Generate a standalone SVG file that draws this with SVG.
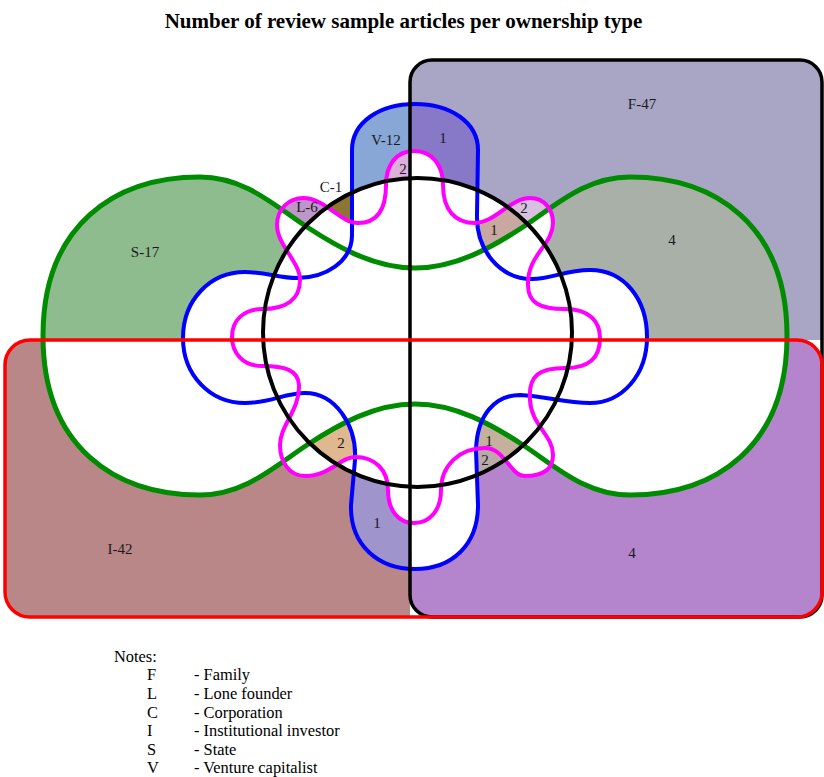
<svg xmlns="http://www.w3.org/2000/svg" width="824" height="777" viewBox="0 0 824 777">
<style>
.o{fill:none}
.sS{stroke:#008c00;stroke-width:5}
.sV{stroke:#0000ff;stroke-width:4}
.sL{stroke:#ff00ff;stroke-width:4}
.sC{stroke:#000;stroke-width:4}
.sF{stroke:#000;stroke-width:3.5}
.sI{stroke:#ff0000;stroke-width:3.5}
.lab{font-family:"Liberation Serif","Times New Roman",serif;font-size:15px;fill:#1a1a1a;text-anchor:middle}
.note{font-family:"Liberation Serif","Times New Roman",serif;font-size:16.4px;fill:#000}
.title{font-family:"Liberation Serif","Times New Roman",serif;font-size:21px;font-weight:bold;fill:#000;text-anchor:middle}
</style>
<defs>
<rect id="pF" x="410" y="60" width="412" height="557" rx="22"/>
<rect id="pI" x="5" y="340" width="817" height="277" rx="25"/>
<circle id="pC" cx="417.5" cy="332.5" r="154.5"/>
<path id="pS" d="M43,336 C43,225 115,177 200,177 C245,177 275,206 307,227 C339,248 375,268 415,268 C455,268 491,248 523,227 C555,206 585,177 630,177 C715,177 787,225 787,336 C787,447 715,495 630,495 C585,495 555,466 523,445 C491,424 455,404 415,404 C375,404 339,424 307,445 C275,466 245,495 200,495 C115,495 43,447 43,336 Z"/>
<path id="pV" d="M415,104 C450,104 478,122 478,150 L477,215 C476,250 500,279 532,279 C552,279 565,270 590,270 C625,270 647,300 647,337 C647,375 622,403 590,403 C565,403 545,396 520,395 C495,395 477,415 476,450 L478,505 C478,545 452,569 415,569 C378,569 350,545 351,505 L355,460 C357,425 335,393 305,393 C285,393 270,403 245,403 C210,403 183,375 183,338 C183,300 210,272 245,272 C265,272 280,278 297,278 C325,278 352,262 352,235 L352,150 C352,122 380,104 415,104 Z"/>
<path id="pL" d="M414,151 C432,151 443,165 443,185 C443,210 455,223 475,223 C495,223 510,198 530,198 C545,198 553,210 553,223 C553,245 527,255 528,285 C528,303 540,309 565,309 C590,309 600,322 600,338 C600,357 590,368 565,368 C540,368 528,375 530,400 C531,425 553,435 553,455 C553,470 542,476 525,476 C510,476 505,448 485,448 C460,448 441,465 441,490 C441,510 430,523 414,523 C398,523 388,510 388,490 C388,470 375,457 355,457 C340,457 330,476 305,476 C288,476 280,460 280,445 C280,425 300,410 299,385 C298,370 285,366 262,366 C242,366 232,352 232,337 C232,320 244,309 262,309 C285,309 300,300 300,280 C300,262 277,245 277,225 C277,208 290,198 303,198 C325,198 340,223 358,223 C380,223 386,205 386,185 C386,165 396,151 414,151 Z"/>
<clipPath id="cF"><use href="#pF"/></clipPath>
<clipPath id="cI"><use href="#pI"/></clipPath>
<clipPath id="cC"><use href="#pC"/></clipPath>
<clipPath id="cS"><use href="#pS"/></clipPath>
<clipPath id="cV"><use href="#pV"/></clipPath>
<clipPath id="cL"><use href="#pL"/></clipPath>
<clipPath id="cNF"><rect x="0" y="0" width="410" height="777"/></clipPath>
<clipPath id="cNI"><rect x="0" y="0" width="824" height="340"/></clipPath>
<mask id="mSVLC" maskUnits="userSpaceOnUse" x="0" y="0" width="824" height="777"><rect width="824" height="777" fill="#fff"/><use href="#pS" fill="#000"/><use href="#pV" fill="#000"/><use href="#pL" fill="#000"/><use href="#pC" fill="#000"/></mask>
<mask id="mVLC" maskUnits="userSpaceOnUse" x="0" y="0" width="824" height="777"><rect width="824" height="777" fill="#fff"/><use href="#pV" fill="#000"/><use href="#pL" fill="#000"/><use href="#pC" fill="#000"/></mask>
<mask id="mSLC" maskUnits="userSpaceOnUse" x="0" y="0" width="824" height="777"><rect width="824" height="777" fill="#fff"/><use href="#pS" fill="#000"/><use href="#pL" fill="#000"/><use href="#pC" fill="#000"/></mask>
<mask id="mSC" maskUnits="userSpaceOnUse" x="0" y="0" width="824" height="777"><rect width="824" height="777" fill="#fff"/><use href="#pS" fill="#000"/><use href="#pC" fill="#000"/></mask>
<mask id="mSVC" maskUnits="userSpaceOnUse" x="0" y="0" width="824" height="777"><rect width="824" height="777" fill="#fff"/><use href="#pS" fill="#000"/><use href="#pV" fill="#000"/><use href="#pC" fill="#000"/></mask>
<mask id="mSVL" maskUnits="userSpaceOnUse" x="0" y="0" width="824" height="777"><rect width="824" height="777" fill="#fff"/><use href="#pS" fill="#000"/><use href="#pV" fill="#000"/><use href="#pL" fill="#000"/></mask>
<mask id="mSV" maskUnits="userSpaceOnUse" x="0" y="0" width="824" height="777"><rect width="824" height="777" fill="#fff"/><use href="#pS" fill="#000"/><use href="#pV" fill="#000"/></mask>
</defs>
<rect width="824" height="777" fill="#fff"/>
<text class="title" x="403.5" y="28">Number of review sample articles per ownership type</text>
<g id="regions">
<g id="r-F" mask="url(#mSVLC)"><g clip-path="url(#cF)"><rect width="824" height="777" clip-path="url(#cNI)" fill="#a8a5c5"/></g></g>
<g id="r-I" mask="url(#mSVLC)"><g clip-path="url(#cI)"><rect width="824" height="777" clip-path="url(#cNF)" fill="#b98787"/></g></g>
<g id="r-FI" mask="url(#mSVLC)"><g clip-path="url(#cF)"><rect width="824" height="777" clip-path="url(#cI)" fill="#b484cc"/></g></g>
<g id="r-S" mask="url(#mVLC)"><g clip-path="url(#cS)"><g clip-path="url(#cNF)"><rect width="824" height="777" clip-path="url(#cNI)" fill="#8fbc8f"/></g></g></g>
<g id="r-FS" mask="url(#mVLC)"><g clip-path="url(#cS)"><g clip-path="url(#cF)"><rect width="824" height="777" clip-path="url(#cNI)" fill="#a9b0a8"/></g></g></g>
<g id="r-V" mask="url(#mSLC)"><g clip-path="url(#cV)"><g clip-path="url(#cNF)"><rect width="824" height="777" clip-path="url(#cNI)" fill="#88a6d6"/></g></g></g>
<g id="r-FV" mask="url(#mSLC)"><g clip-path="url(#cV)"><g clip-path="url(#cF)"><rect width="824" height="777" clip-path="url(#cNI)" fill="#8878c8"/></g></g></g>
<g id="r-VL" mask="url(#mSC)"><g clip-path="url(#cV)"><g clip-path="url(#cL)"><g clip-path="url(#cNF)"><rect width="824" height="777" clip-path="url(#cNI)" fill="#dcb0dc"/></g></g></g></g>
<g id="r-L" mask="url(#mSVC)"><g clip-path="url(#cL)"><g clip-path="url(#cNF)"><rect width="824" height="777" clip-path="url(#cNI)" fill="#be96c8"/></g></g></g>
<g id="r-C" mask="url(#mSVL)"><g clip-path="url(#cC)"><g clip-path="url(#cNF)"><rect width="824" height="777" clip-path="url(#cNI)" fill="#8c7632"/></g></g></g>
<g id="r-FL" mask="url(#mSVC)"><g clip-path="url(#cL)"><g clip-path="url(#cF)"><rect width="824" height="777" clip-path="url(#cNI)" fill="#d8c0e0"/></g></g></g>
<g id="r-FCL" mask="url(#mSV)"><g clip-path="url(#cC)"><g clip-path="url(#cL)"><g clip-path="url(#cF)"><rect width="824" height="777" clip-path="url(#cNI)" fill="#c8a8a0"/></g></g></g></g>
<g id="r-CIL" mask="url(#mSV)"><g clip-path="url(#cC)"><g clip-path="url(#cL)"><g clip-path="url(#cI)"><rect width="824" height="777" clip-path="url(#cNF)" fill="#e0b890"/></g></g></g></g>
<g id="r-FICL" mask="url(#mSV)"><g clip-path="url(#cC)"><g clip-path="url(#cL)"><g clip-path="url(#cF)"><rect width="824" height="777" clip-path="url(#cI)" fill="#c4b09c"/></g></g></g></g>
<g id="r-FIC" mask="url(#mSVL)"><g clip-path="url(#cC)"><g clip-path="url(#cF)"><rect width="824" height="777" clip-path="url(#cI)" fill="#bcaaa8"/></g></g></g>
<g id="r-VI" mask="url(#mSLC)"><g clip-path="url(#cV)"><g clip-path="url(#cI)"><rect width="824" height="777" clip-path="url(#cNF)" fill="#a094cc"/></g></g></g>
</g>
<g id="set-S"><use href="#pS" class="o sS"/></g>
<g id="set-V"><use href="#pV" class="o sV"/></g>
<g id="set-L"><use href="#pL" class="o sL"/></g>
<g id="set-C"><use href="#pC" class="o sC"/></g>
<g id="set-F"><use href="#pF" class="o sF"/></g>
<g id="set-I"><use href="#pI" class="o sI"/></g>
<g id="labels">
<text class="lab" x="642" y="109">F-47</text>
<text class="lab" x="386" y="145">V-12</text>
<text class="lab" x="443" y="143">1</text>
<text class="lab" x="403" y="174">2</text>
<text class="lab" x="331" y="192">C-1</text>
<text class="lab" x="307" y="212">L-6</text>
<text class="lab" x="524" y="213">2</text>
<text class="lab" x="494" y="235">1</text>
<text class="lab" x="672" y="245">4</text>
<text class="lab" x="145" y="257">S-17</text>
<text class="lab" x="341" y="448">2</text>
<text class="lab" x="489" y="446">1</text>
<text class="lab" x="485" y="465">2</text>
<text class="lab" x="377" y="528">1</text>
<text class="lab" x="120" y="554">I-42</text>
<text class="lab" x="632" y="558">4</text>
</g>
<g id="notes" class="note">
<text x="114" y="661.5">Notes:</text>
<text x="147" y="680.2">F</text><text x="194" y="680.2">- Family</text>
<text x="147" y="698.9">L</text><text x="194" y="698.9">- Lone founder</text>
<text x="147" y="717.6">C</text><text x="194" y="717.6">- Corporation</text>
<text x="147" y="736.3">I</text><text x="194" y="736.3">- Institutional investor</text>
<text x="147" y="755">S</text><text x="194" y="755">- State</text>
<text x="147" y="773">V</text><text x="194" y="773">- Venture capitalist</text>
</g>
</svg>
